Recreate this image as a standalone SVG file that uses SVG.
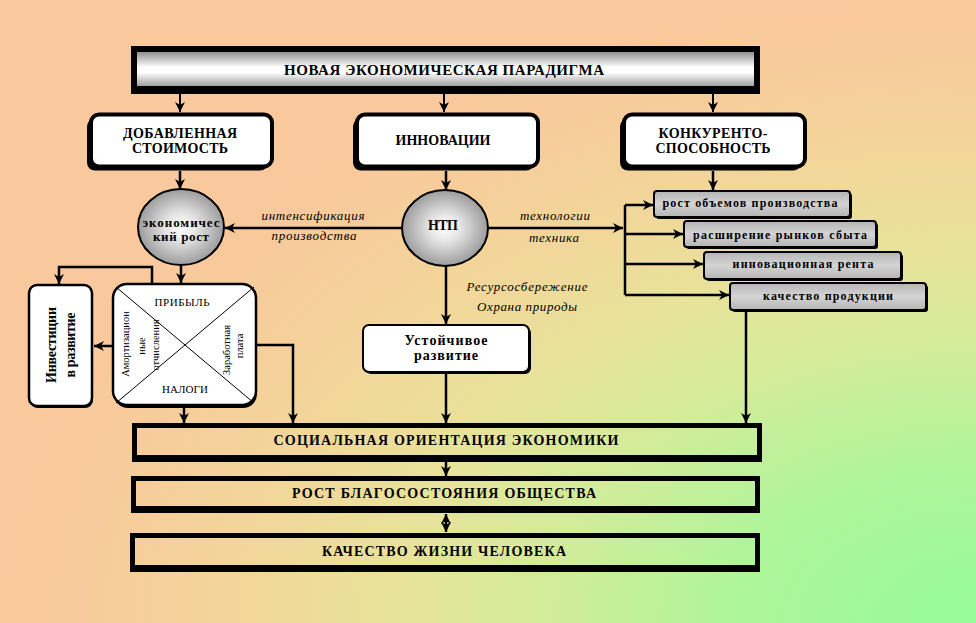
<svg xmlns="http://www.w3.org/2000/svg" width="976" height="623" viewBox="0 0 976 623">
<defs>
<radialGradient id="bg" cx="1" cy="1" r="1">
<stop offset="0" stop-color="#96FC98"/>
<stop offset="0.25" stop-color="#AEF59A"/>
<stop offset="0.45" stop-color="#D4EB9A"/>
<stop offset="0.6" stop-color="#E8E29A"/>
<stop offset="0.75" stop-color="#F2D69A"/>
<stop offset="0.9" stop-color="#F7CC9B"/>
<stop offset="1" stop-color="#F9C89C"/>
</radialGradient>
<linearGradient id="topg" x1="0" y1="0" x2="0" y2="1">
<stop offset="0" stop-color="#909090"/>
<stop offset="0.45" stop-color="#FFFFFF"/>
<stop offset="0.6" stop-color="#FFFFFF"/>
<stop offset="1" stop-color="#A0A0A0"/>
</linearGradient>
<radialGradient id="ball" cx="0.5" cy="0.5" r="0.5">
<stop offset="0" stop-color="#FFFFFF"/>
<stop offset="0.35" stop-color="#E6E6E6"/>
<stop offset="1" stop-color="#9C9C9C"/>
</radialGradient>
<linearGradient id="grey" x1="0" y1="0" x2="0" y2="1">
<stop offset="0" stop-color="#B4B4B4"/>
<stop offset="0.5" stop-color="#D4D4D4"/>
<stop offset="1" stop-color="#B4B4B4"/>
</linearGradient>
<marker id="ah" markerUnits="userSpaceOnUse" markerWidth="10" markerHeight="10" refX="10" refY="5" orient="auto-start-reverse">
<path d="M0,0 L10,5 L0,10 L3,5 z" fill="#000"/>
</marker>
</defs>
<style>
.t{font-family:"Liberation Serif","Times New Roman",serif;fill:#000;}
.b{font-weight:bold;}
.i{font-style:italic;}
.c{stroke:#000;stroke-width:2.5;fill:none;}
.a{marker-end:url(#ah);}
.wb{fill:#fff;stroke:#000;stroke-width:4;}
.sh{fill:#000;}
.gb{fill:url(#grey);stroke:#000;stroke-width:2;}
.ball{fill:url(#ball);stroke:#000;stroke-width:2;}
.thin{fill:#fff;stroke:#000;stroke-width:2.5;}
</style>
<rect x="0" y="0" width="976" height="623" fill="url(#bg)"/>

<g id="n-top">
<path d="M131,46 H760 V94 H131 Z M137,52 V86 H754 V52 Z" fill="#000" fill-rule="evenodd"/>
<rect x="137" y="52" width="617" height="34" fill="url(#topg)"/>
<text class="t b" x="444" y="75" font-size="15" text-anchor="middle" textLength="320" lengthAdjust="spacing">НОВАЯ ЭКОНОМИЧЕСКАЯ ПАРАДИГМА</text>
</g>

<g id="n-added">
<rect class="sh" x="87" y="118.5" width="181" height="52" rx="8"/>
<rect class="wb" x="91" y="114.5" width="181" height="52" rx="8"/>
<text class="t b" x="180" y="138" font-size="14" text-anchor="middle" textLength="114" lengthAdjust="spacing">ДОБАВЛЕННАЯ</text>
<text class="t b" x="180" y="153" font-size="14" text-anchor="middle" textLength="96" lengthAdjust="spacing">СТОИМОСТЬ</text>
</g>

<g id="n-innov">
<rect class="sh" x="353" y="118.5" width="181" height="52" rx="8"/>
<rect class="wb" x="357" y="114.5" width="181" height="52" rx="8"/>
<text class="t b" x="443" y="145" font-size="14" text-anchor="middle" textLength="95" lengthAdjust="spacing">ИННОВАЦИИ</text>
</g>

<g id="n-compet">
<rect class="sh" x="620" y="118.5" width="181" height="52" rx="8"/>
<rect class="wb" x="624" y="114.5" width="181" height="52" rx="8"/>
<text class="t b" x="713" y="138" font-size="14" text-anchor="middle" textLength="109" lengthAdjust="spacing">КОНКУРЕНТО-</text>
<text class="t b" x="713" y="153" font-size="14" text-anchor="middle" textLength="115" lengthAdjust="spacing">СПОСОБНОСТЬ</text>
</g>

<g id="n-growth">
<ellipse class="ball" cx="181" cy="227" rx="43" ry="38"/>
<text class="t b" x="181" y="227" font-size="13" text-anchor="middle" textLength="77" lengthAdjust="spacing">экономичес</text>
<text class="t b" x="181" y="241" font-size="13" text-anchor="middle" textLength="56" lengthAdjust="spacing">кий рост</text>
</g>

<g id="n-ntp">
<ellipse class="ball" cx="445" cy="228" rx="43" ry="38"/>
<text class="t b" x="443" y="230" font-size="14" text-anchor="middle" textLength="30" lengthAdjust="spacing">НТП</text>
</g>

<g id="n-r1">
<rect class="sh" x="656" y="193" width="196" height="26" rx="3"/>
<rect class="gb" x="654" y="191" width="196" height="26" rx="3"/>
<text class="t b" x="750" y="207" font-size="12" text-anchor="middle" textLength="175" lengthAdjust="spacing">рост объемов производства</text>
</g>
<g id="n-r2">
<rect class="sh" x="686" y="223" width="192" height="26" rx="3"/>
<rect class="gb" x="684" y="221" width="192" height="26" rx="3"/>
<text class="t b" x="780" y="239" font-size="12" text-anchor="middle" textLength="174" lengthAdjust="spacing">расширение рынков сбыта</text>
</g>
<g id="n-r3">
<rect class="sh" x="706" y="254" width="197" height="27" rx="3"/>
<rect class="gb" x="704" y="252" width="197" height="27" rx="3"/>
<text class="t b" x="803" y="268" font-size="12" text-anchor="middle" textLength="141" lengthAdjust="spacing">инновационная рента</text>
</g>
<g id="n-r4">
<rect class="sh" x="732" y="285" width="196" height="27" rx="3"/>
<rect class="gb" x="730" y="283" width="196" height="27" rx="3"/>
<text class="t b" x="828" y="300" font-size="12" text-anchor="middle" textLength="130" lengthAdjust="spacing">качество продукции</text>
</g>

<g id="n-sustain">
<rect class="sh" x="365" y="327" width="166" height="47" rx="6"/>
<rect class="thin" x="363" y="325" width="166" height="47" rx="6" style="stroke-width:2"/>
<text class="t b" x="446" y="345" font-size="14" text-anchor="middle" textLength="83" lengthAdjust="spacing">Устойчивое</text>
<text class="t b" x="446" y="360" font-size="14" text-anchor="middle" textLength="64" lengthAdjust="spacing">развитие</text>
</g>

<g id="n-invest">
<rect class="sh" x="30" y="287" width="63" height="121" rx="8"/>
<rect class="thin" x="29" y="285" width="63" height="121" rx="8"/>
<text class="t b" transform="translate(56,345) rotate(-90)" font-size="14" text-anchor="middle" textLength="76" lengthAdjust="spacing">Инвестиции</text>
<text class="t b" transform="translate(75,345) rotate(-90)" font-size="14" text-anchor="middle" textLength="65" lengthAdjust="spacing">в развитие</text>
</g>

<g id="n-profit">
<rect class="sh" x="114" y="287" width="143" height="121" rx="14"/>
<rect class="thin" x="113" y="284" width="143" height="121" rx="14"/>
<line x1="116" y1="287" x2="254" y2="403" stroke="#000" stroke-width="1"/>
<line x1="254" y1="287" x2="116" y2="403" stroke="#000" stroke-width="1"/>
<text class="t" x="182" y="306" font-size="11" text-anchor="middle" textLength="55" lengthAdjust="spacing">ПРИБЫЛЬ</text>
<text class="t" x="185" y="393" font-size="11" text-anchor="middle" textLength="46" lengthAdjust="spacing">НАЛОГИ</text>
<text class="t" transform="translate(128.5,344) rotate(-90)" font-size="10.5" text-anchor="middle">Амортизацион</text>
<text class="t" transform="translate(144.5,346) rotate(-90)" font-size="10.5" text-anchor="middle">ные</text>
<text class="t" transform="translate(158.5,345) rotate(-90)" font-size="10.5" text-anchor="middle">отчисления</text>
<text class="t" transform="translate(230,350) rotate(-90)" font-size="10.5" text-anchor="middle">Заработная</text>
<text class="t" transform="translate(243,346) rotate(-90)" font-size="10.5" text-anchor="middle">плата</text>
</g>

<g id="n-social">
<path d="M132,423 H762 V462 H132 Z M137,428 V455 H757 V428 Z" fill="#000" fill-rule="evenodd"/>
<text class="t b" x="446" y="445" font-size="14" text-anchor="middle" textLength="345" lengthAdjust="spacing">СОЦИАЛЬНАЯ ОРИЕНТАЦИЯ ЭКОНОМИКИ</text>
</g>
<g id="n-welfare">
<path d="M131,476 H760 V513 H131 Z M136,481 V506 H755 V481 Z" fill="#000" fill-rule="evenodd"/>
<text class="t b" x="444" y="498" font-size="14" text-anchor="middle" textLength="304" lengthAdjust="spacing">РОСТ БЛАГОСОСТОЯНИЯ ОБЩЕСТВА</text>
</g>
<g id="n-quality">
<path d="M130,533 H760 V572 H130 Z M135,538 V565 H755 V538 Z" fill="#000" fill-rule="evenodd"/>
<text class="t b" x="444" y="556" font-size="14" text-anchor="middle" textLength="244" lengthAdjust="spacing">КАЧЕСТВО ЖИЗНИ ЧЕЛОВЕКА</text>
</g>

<g id="labels">
<text class="t i" x="313" y="220" font-size="13" text-anchor="middle" textLength="103" lengthAdjust="spacing">интенсификация</text>
<text class="t i" x="314" y="240" font-size="13" text-anchor="middle" textLength="85" lengthAdjust="spacing">производства</text>
<text class="t i" x="555" y="220" font-size="13" text-anchor="middle" textLength="70" lengthAdjust="spacing">технологии</text>
<text class="t i" x="554" y="242" font-size="13" text-anchor="middle" textLength="50" lengthAdjust="spacing">техника</text>
<text class="t i" x="527" y="291" font-size="13" text-anchor="middle" textLength="121" lengthAdjust="spacing">Ресурсосбережение</text>
<text class="t i" x="527" y="311" font-size="13" text-anchor="middle" textLength="100" lengthAdjust="spacing">Охрана природы</text>
</g>

<g id="connectors">
<path class="c a" d="M180,94 V112" style="stroke-width:2"/>
<path class="c a" d="M444,94 V112" style="stroke-width:2"/>
<path class="c a" d="M713,94 V112" style="stroke-width:2"/>
<path class="c a" d="M180,171 V189"/>
<path class="c a" d="M446,171 V190"/>
<path class="c a" d="M713,171 V190"/>
<path class="c a" d="M402,228 H225"/>
<path class="c a" d="M488,228 H623"/>
<path class="c" d="M625,205 V295"/>
<path class="c a" d="M625,205 H653"/>
<path class="c a" d="M625,234 H683"/>
<path class="c a" d="M625,264 H703"/>
<path class="c a" d="M625,295 H729"/>
<path class="c a" d="M181,265 V283"/>
<path class="c a" d="M152,284 V267 H59 V284"/>
<path class="c a" d="M112,346 H94"/>
<path class="c a" d="M257,345 H293 V423"/>
<path class="c a" d="M184,406 V423"/>
<path class="c a" d="M446,266 V324"/>
<path class="c a" d="M446,374 V423"/>
<path class="c a" d="M746,312 V423"/>
<path class="c a" d="M446,462 V476"/>
<path class="c a" d="M446,514 V532" style="marker-start:url(#ah)"/>
</g>
</svg>
